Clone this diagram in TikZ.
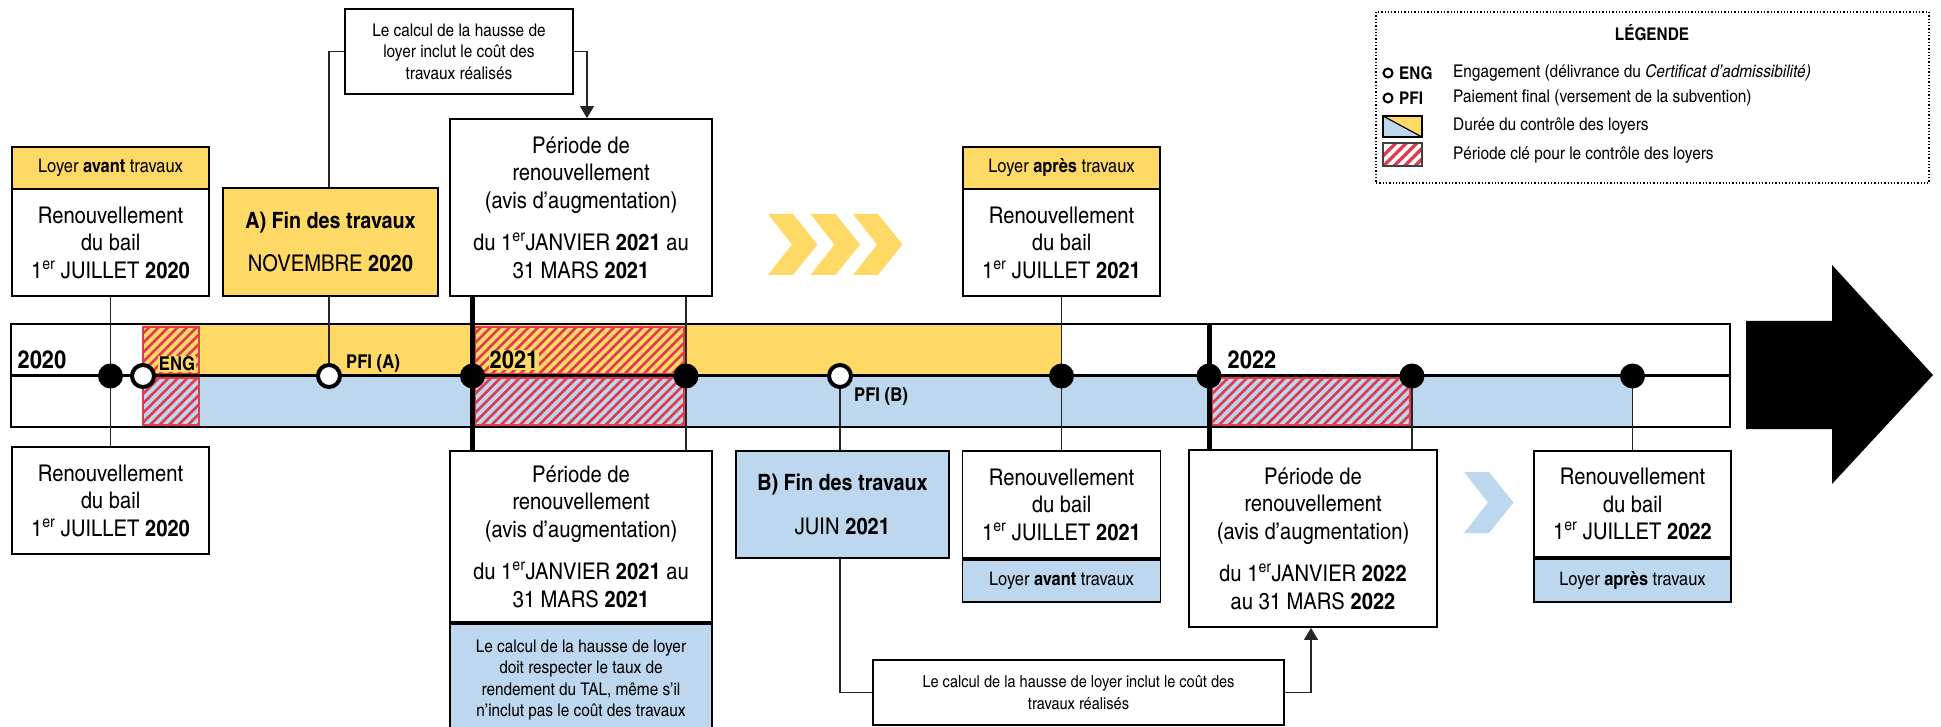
\documentclass[tikz,border=0pt]{standalone}
\usepackage{fontspec}
\setmainfont{texgyreheroscn}[Extension=.otf, UprightFont=*-regular, BoldFont=*-bold, ItalicFont=*-italic, BoldItalicFont=*-bolditalic, FakeStretch=1.07]
\usetikzlibrary{arrows.meta}
\definecolor{yel}{RGB}{255,217,102}
\definecolor{blu}{RGB}{189,215,238}
\definecolor{hred}{RGB}{224,60,80}
\newcommand{\fbig}{\fontsize{23}{27.5}\selectfont}
\newcommand{\fhead}{\fontsize{18.7}{22}\selectfont}
\newcommand{\fsmall}{\fontsize{17.5}{21.5}\selectfont}
\newcommand{\fsmallb}{\fontsize{16.6}{21.5}\selectfont}
\newcommand{\fleg}{\fontsize{17.5}{20}\selectfont}
\newcommand{\ffinbox}{\fontsize{22.5}{26}\selectfont\bfseries}
\newcommand{\er}{\textsuperscript{er}}
\newcommand{\hatchrect}[5]{%
  \fill[#5] (#1,#2) rectangle (#3,#4);
  \begin{scope}
    \clip (#1,#2) rectangle (#3,#4);
    \foreach \i in {0,...,32} {\draw[hred, line width=2.6pt] ({#1-50+\i*9.5},#4) -- ++(55,-55);}
  \end{scope}
  \draw[hred, line width=2pt] (#1,#2) rectangle (#3,#4);
}
\begin{document}
\begin{tikzpicture}[x=1pt,y=-1pt,
  box/.style={draw, line width=1.8pt, inner sep=0pt, align=center, font=\fbig},
  hdr/.style={draw, line width=1.8pt, inner sep=0pt, align=center, font=\fhead},
  callout/.style={draw, line width=1.8pt, inner sep=0pt, align=center, font=\fsmall},
  conn/.style={line width=1.2pt, black!85},
  arr/.style={conn, -{Triangle[width=14pt,length=12pt]}},
  yearline/.style={line width=5pt},
  dot/.style={circle, fill=black, minimum size=25pt, inner sep=0pt},
  ring/.style={circle, draw=black, fill=white, line width=4pt, minimum size=22pt, inner sep=0pt},
  lbl/.style={font=\fontsize{19}{22}\selectfont\bfseries, inner sep=1pt},
  year/.style={font=\fontsize{25}{30}\selectfont\bfseries, inner sep=1pt},
  legtxt/.style={font=\fleg, anchor=west, inner sep=0pt},
  legring/.style={circle, draw=black, line width=2pt, minimum size=9pt, inner sep=0pt}
]
\useasboundingbox (0,0) rectangle (1941,727);

% ---------- timeline fills ----------
\fill[yel] (143,324) rectangle (1061,376);
\fill[blu] (143,376) rectangle (1632,427);
\hatchrect{143}{327}{199}{374}{yel}
\hatchrect{143}{378}{199}{425}{blu}
\hatchrect{475}{327}{684}{374}{yel}
\hatchrect{475}{378}{684}{425}{blu}
\hatchrect{1212}{378}{1410}{425}{blu}
\node[draw, line width=2.5pt, minimum width=1719pt, minimum height=103pt, inner sep=0pt] (tl) at (870.5,375.5) {};
\draw[line width=2.5pt] (tl.west) -- (tl.east);

% ---------- top row ----------
\node[callout, fill=white, minimum width=228pt, minimum height=85pt] (c1) at (459,51.5) {Le calcul de la hausse de\\loyer inclut le coût des\\travaux réalisés};
\node[hdr, fill=yel, minimum width=197pt, minimum height=42pt] (h1) at (110.5,168) {Loyer \textbf{avant} travaux};
\node[box, minimum width=197pt, minimum height=107pt] (r1) at (110.5,242.5) {Renouvellement\\du bail\\1\er{} JUILLET \textbf{2020}};
\node[box, fill=yel, minimum width=215pt, minimum height=108pt] (fa) at (330.5,242) {{\ffinbox A) Fin des travaux}\\[16pt]NOVEMBRE \textbf{2020}};
\node[box, minimum width=262pt, minimum height=177pt] (p1) at (581,207.5) {Période de\\renouvellement\\(avis d’augmentation)\\[15pt]du 1\er JANVIER \textbf{2021} au\\31 MARS \textbf{2021}};
\node[hdr, fill=yel, minimum width=197pt, minimum height=42pt] (h2) at (1061.5,168) {Loyer \textbf{après} travaux};
\node[box, minimum width=197pt, minimum height=107pt] (r2) at (1061.5,242.5) {Renouvellement\\du bail\\1\er{} JUILLET \textbf{2021}};

% chevrons
\foreach \x in {768,810.5,853} {\fill[yel] (\x,214) -- ++(25,0) -- ++(24.5,30.5) -- ++(-24.5,30.5) -- ++(-25,0) -- ++(24,-30.5) -- cycle;}
\fill[blu] (1464,472) -- ++(25,0) -- ++(24.5,30.5) -- ++(-24.5,30.5) -- ++(-25,0) -- ++(24,-30.5) -- cycle;

% ---------- bottom row ----------
\node[box, minimum width=197pt, minimum height=107pt] (r1b) at (110.5,500.5) {Renouvellement\\du bail\\1\er{} JUILLET \textbf{2020}};
\node[box, minimum width=262pt, minimum height=171pt] (p1b) at (581,536.5) {Période de\\renouvellement\\(avis d’augmentation)\\[15pt]du 1\er JANVIER \textbf{2021} au\\31 MARS \textbf{2021}};
\node[callout, fill=blu, minimum width=262pt, minimum height=112pt, anchor=north] (p1c) at (p1b.south) {Le calcul de la hausse de loyer\\doit respecter le taux de\\rendement du TAL, même s’il\\n’inclut pas le coût des travaux};
\node[box, fill=blu, minimum width=213pt, minimum height=107pt] (fb) at (842.5,504.5) {{\ffinbox B) Fin des travaux}\\[16pt]JUIN \textbf{2021}};
\node[box, minimum width=198pt, minimum height=107pt] (r2b) at (1061.5,504.5) {Renouvellement\\du bail\\1\er{} JUILLET \textbf{2021}};
\node[hdr, fill=blu, minimum width=198pt, minimum height=42pt, anchor=north] (h2b) at (r2b.south) {Loyer \textbf{avant} travaux};
\node[box, minimum width=248pt, minimum height=177pt] (p2b) at (1313,538.5) {Période de\\renouvellement\\(avis d’augmentation)\\[15pt]du 1\er JANVIER \textbf{2022}\\au 31 MARS \textbf{2022}};
\node[box, minimum width=197pt, minimum height=106pt] (r3b) at (1632.5,504) {Renouvellement\\du bail\\1\er{} JUILLET \textbf{2022}};
\node[hdr, fill=blu, minimum width=197pt, minimum height=43pt, anchor=north] (h3b) at (r3b.south) {Loyer \textbf{après} travaux};
\node[callout, font=\fsmallb, fill=white, minimum width=411pt, minimum height=65pt] (c2) at (1078.5,692.5) {Le calcul de la hausse de loyer inclut le coût des\\travaux réalisés};

% ---------- markers ----------
\coordinate (m1) at (110.5,376);
\coordinate (m2) at (472.5,376);
\coordinate (m3) at (686,376);
\coordinate (m4) at (1061.5,376);
\coordinate (m5) at (1209,376);
\coordinate (m6) at (1412,376);
\coordinate (m7) at (1632.5,376);
\coordinate (mE) at (143,376);
\coordinate (mA) at (329,376);
\coordinate (mB) at (840,376);

% ---------- connectors ----------
\draw[conn] (r1.south) -- (r1b.north);
\draw[conn] (mA) -- (mA |- fa.south);
\draw[conn] (mA |- fa.north) |- (c1.west);
\coordinate (c1r) at (587,51.5);
\draw[arr] (c1.east) -- (c1r) -- (c1r |- p1.north);
\draw[yearline] (m2 |- p1.south) -- (m2 |- p1b.north);
\draw[conn] (m3 |- p1.south) -- (m3 |- p1b.north);
\draw[conn] (mB) -- (mB |- fb.north);
\draw[conn] (fb.south -| mB) |- (c2.west);
\coordinate (c2r) at (1311,692.5);
\draw[arr] (c2.east) -- (c2r) -- (c2r |- p2b.south);
\draw[conn] (r2.south) -- (r2b.north);
\draw[yearline] (m5 |- tl.north) -- (m5 |- p2b.north);
\draw[conn] (m6) -- (m6 |- p2b.north);
\draw[conn] (m7) -- (r3b.north);

\foreach \m in {m1,m2,m3,m4,m5,m6,m7} {\node[dot] (dot-\m) at (\m) {};}
\node[ring] (eng) at (mE) {};
\node[ring] (pfia) at (mA) {};
\node[ring] (pfib) at (mB) {};

% labels
\node[year] (y20) at (42,360) {2020};
\node[year, fill=yel, inner sep=0.5pt] (y21) at (514,360) {2021};
\node[year] (y22) at (1252,360) {2022};
\node[lbl, fill=yel, inner sep=0.5pt] (engl) at (177,364) {ENG};
\node[lbl] (pfial) at (373,363) {PFI (A)};
\node[lbl] (pfibl) at (881,396) {PFI (B)};

% big arrow
\fill (1746,321) -- (1832,321) -- (1832,265) -- (1933,375) -- (1832,484) -- (1832,429) -- (1746,429) -- cycle;

% ---------- legend ----------
\node[draw, dotted, line width=1.3pt, minimum width=553pt, minimum height=171pt, inner sep=0pt] (leg) at (1652.5,97.5) {};
\node[font=\fleg\bfseries] (legt) at (1652,33) {LÉGENDE};
\node[legring] (lr1) at (1388,73) {};
\node[legtxt, font=\fleg\bfseries] (le1) at (1399,73) {ENG};
\node[legtxt] (ld1) at (1453,73) {Engagement (délivrance du \textit{Certificat d’admissibilité)}};
\node[legring] (lr2) at (1388,98) {};
\node[legtxt, font=\fleg\bfseries] (le2) at (1399,98) {PFI};
\node[legtxt] (ld2) at (1453,98) {Paiement final (versement de la subvention)};
\fill[blu] (1383,116) -- (1422,137) -- (1383,137) -- cycle;
\fill[yel] (1383,116) -- (1422,116) -- (1422,137) -- cycle;
\draw[line width=1.2pt] (1383,116) rectangle (1422,137);
\draw[line width=1.2pt] (1383,116) -- (1422,137);
\node[legtxt] (ld3) at (1453,126) {Durée du contrôle des loyers};
\begin{scope}
  \clip (1383,143) rectangle (1422,166);
  \foreach \i in {0,...,7} {\draw[hred, line width=3.5pt] ({1373+\i*10.5},166) -- ++(30,-30);}
\end{scope}
\draw[line width=1.2pt, black!75] (1383,143) rectangle (1422,166);
\node[legtxt] (ld4) at (1453,155) {Période clé pour le contrôle des loyers};
\end{tikzpicture}
\end{document}
